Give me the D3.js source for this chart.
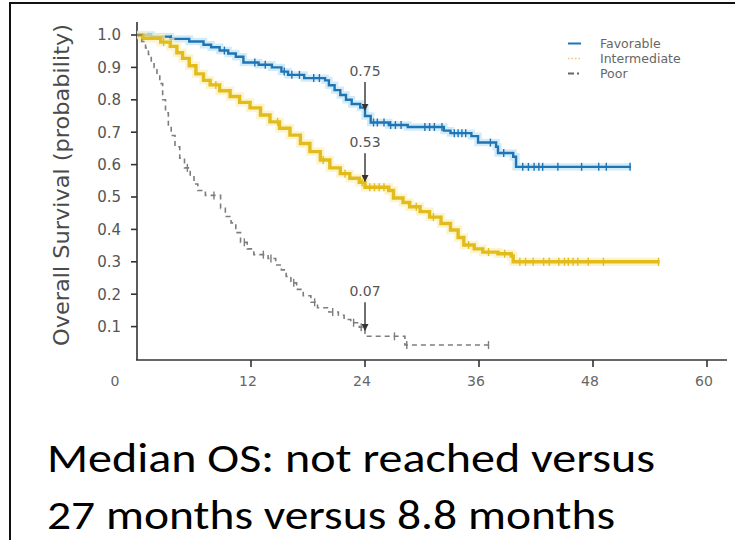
<!DOCTYPE html>
<html>
<head>
<meta charset="utf-8">
<script src="https://cdn.jsdelivr.net/npm/d3@7/dist/d3.min.js"></script>
<style>
  html, body { margin: 0; padding: 0; background: #fff; }
  svg { display: block; }
</style>
</head>
<body>
<svg id="chart" width="735" height="540"></svg>
<script>
// Kaplan–Meier overall survival by risk group: [month, survival after the step]
const favorableSteps = [
  [0, 1.0], [1.5, 0.995], [3.5, 0.988], [5.5, 0.98], [7, 0.97], [7.8, 0.962],
  [8.7, 0.952], [9.6, 0.943], [10.4, 0.933], [11.2, 0.915], [12.8, 0.908],
  [14.2, 0.9], [15.2, 0.887], [15.9, 0.877], [17.6, 0.867], [19.8, 0.86],
  [20.2, 0.845], [20.8, 0.83], [21.4, 0.815], [22, 0.8], [22.6, 0.787],
  [23.5, 0.776], [24, 0.75], [24.6, 0.73], [26.5, 0.722], [28.5, 0.716],
  [32.3, 0.705], [33, 0.697], [35.2, 0.688], [35.9, 0.668], [37.8, 0.655],
  [38, 0.636], [39.6, 0.624], [39.9, 0.593]
];
const favorableEnd = 52;
const favorableCensored = [3.6, 9.2, 12.4, 13.5, 15.5, 16.3, 17.1, 18.6, 19.2, 24.9,
  25.3, 26, 26.7, 27.2, 27.8, 30.3, 30.8, 31.3, 32.1, 33.4, 33.8, 34.2, 34.6, 37.2,
  38.6, 40.6, 41.2, 41.8, 42.3, 42.7, 44.3, 46.8, 48.6, 49.4, 51.9];

const intermediateSteps = [
  [0, 1.0], [0.6, 0.99], [2.5, 0.978], [3.5, 0.965], [4.2, 0.945], [4.8, 0.928],
  [5.5, 0.905], [6.2, 0.88], [7, 0.86], [7.7, 0.846], [8.7, 0.828], [9.8, 0.81],
  [10.8, 0.792], [11.9, 0.775], [13, 0.753], [14, 0.732], [15, 0.712],
  [16.1, 0.691], [17.2, 0.665], [18.2, 0.64], [19.3, 0.614], [20.3, 0.59],
  [21.4, 0.572], [22.4, 0.558], [23.4, 0.545], [24, 0.53], [26.5, 0.52],
  [27, 0.497], [28, 0.483], [28.7, 0.47], [29.8, 0.455], [30.8, 0.438],
  [32, 0.418], [33, 0.398], [33.8, 0.375], [34.4, 0.352], [35.5, 0.34],
  [36.4, 0.33], [38, 0.325], [39.4, 0.318], [39.6, 0.30]
];
const intermediateEnd = 55;
const intermediateCensored = [2.8, 8.3, 14.8, 19.6, 21.9, 23.7, 24.5, 25, 25.5, 26,
  29.4, 31.2, 34.9, 37, 38.7, 40.3, 40.9, 41.7, 42.8, 43.4, 44.4, 45, 45.4, 45.9,
  46.4, 47.5, 49.1, 54.9];

const poorSteps = [
  [0, 1.0], [0.5, 0.98], [0.9, 0.96], [1.2, 0.94], [1.5, 0.92], [1.8, 0.9],
  [2.1, 0.877], [2.4, 0.85], [2.7, 0.8], [3.0, 0.76], [3.3, 0.72], [3.6, 0.69],
  [4.0, 0.655], [4.5, 0.62], [5.0, 0.59], [5.6, 0.565], [6.0, 0.54], [6.4, 0.52],
  [7.2, 0.505], [8.8, 0.465], [9.3, 0.44], [9.9, 0.42], [10.4, 0.39], [10.9, 0.36],
  [11.6, 0.34], [12.3, 0.322], [13.8, 0.31], [14.6, 0.29], [15.2, 0.275],
  [15.7, 0.255], [16.2, 0.235], [16.8, 0.215], [17.5, 0.195], [18.3, 0.175],
  [19, 0.158], [20.2, 0.145], [21.2, 0.135], [21.8, 0.122], [22.5, 0.112],
  [23.4, 0.098], [24, 0.07], [28.2, 0.043]
];
const poorEnd = 37;
const poorCensored = [5.3, 8.1, 11.3, 13.3, 14.1, 16.5, 18.7, 20.6, 22.8, 23.6,
  27.1, 28.4, 37];

const groupNames = ["Favorable", "Intermediate", "Poor"];
const landmarkMonth = 24;
const landmarkLabels = ["0.75", "0.53", "0.07"];

const xTicks = [0, 12, 24, 36, 48, 60];
const yTicks = [0.1, 0.2, 0.3, 0.4, 0.5, 0.6, 0.7, 0.8, 0.9, 1.0];

const yTitle = "Overall Survival (probability)";
const captionLines = ["Median OS: not reached versus", "27 months versus 8.8 months"];

// ---------------------------------------------------------------------------
const svg = d3.select("#chart");

const x = d3.scaleLinear().domain([0, 60]).range([137, 707]);
const y = d3.scaleLinear().domain([0, 1]).range([359, 35]);

// outer frame (left and top edges)
svg.append("path")
  .attr("d", "M10,540 L10,3 L735,3")
  .attr("fill", "none").attr("stroke", "#111").attr("stroke-width", 2);

const axisColor = "#333";
const tickText = "#555";
const font = "'DejaVu Sans', Verdana, sans-serif";

// y axis
const gy = svg.append("g");
gy.append("line").attr("x1", 137).attr("x2", 137).attr("y1", 22).attr("y2", 360)
  .attr("stroke", axisColor).attr("stroke-width", 1.6);
gy.selectAll("line.tick").data(yTicks).join("line").attr("class", "tick")
  .attr("x1", 131).attr("x2", 137).attr("y1", d => y(d)).attr("y2", d => y(d))
  .attr("stroke", axisColor).attr("stroke-width", 1.6);
gy.selectAll("text").data(yTicks).join("text")
  .attr("x", 121).attr("y", d => y(d)).attr("dy", "0.36em")
  .attr("text-anchor", "end").attr("font-family", font).attr("font-size", 15)
  .attr("fill", tickText).text(d => d3.format(".1f")(d));

// x axis
const gx = svg.append("g");
gx.append("line").attr("x1", 136).attr("x2", 727).attr("y1", 360).attr("y2", 360)
  .attr("stroke", axisColor).attr("stroke-width", 1.6);
gx.selectAll("line.tick").data(xTicks.filter(d => d > 0)).join("line").attr("class", "tick")
  .attr("x1", d => x(d)).attr("x2", d => x(d)).attr("y1", 360).attr("y2", 367)
  .attr("stroke", axisColor).attr("stroke-width", 1.6);
gx.selectAll("text").data(xTicks).join("text")
  .attr("x", d => x(d) + (d === 0 ? -22 : -3)).attr("y", 386)
  .attr("text-anchor", "middle").attr("font-family", font).attr("font-size", 14)
  .attr("fill", "#666").text(d => d);

// y title
svg.append("text")
  .attr("transform", "translate(69,185) rotate(-90)")
  .attr("text-anchor", "middle").attr("font-family", font).attr("font-size", 21)
  .attr("font-stretch", "condensed")
  .attr("textLength", 322).attr("lengthAdjust", "spacingAndGlyphs")
  .attr("fill", "#4a4a4a").text(yTitle);

// survival curves
const stepLine = d3.line().x(d => x(d[0])).y(d => y(d[1])).curve(d3.curveStepAfter);
function withEnd(steps, end) { return steps.concat([[end, steps[steps.length - 1][1]]]); }
function survivalAt(steps, t) {
  let s = steps[0][1];
  for (const d of steps) { if (d[0] <= t) s = d[1]; }
  return s;
}

const groups = [
  { steps: favorableSteps, end: favorableEnd, cens: favorableCensored,
    color: "#1f74b4", halo: "#bfe3f7", width: 2.4, dash: null },
  { steps: intermediateSteps, end: intermediateEnd, cens: intermediateCensored,
    color: "#e2bb1c", halo: "#fbf0b8", width: 3.4, dash: null },
  { steps: poorSteps, end: poorEnd, cens: poorCensored,
    color: "#7d7d7d", halo: null, width: 1.6, dash: "5,4" }
];

groups.forEach(g => {
  const data = withEnd(g.steps, g.end);
  if (g.halo) {
    svg.append("path").datum(data).attr("d", stepLine)
      .attr("fill", "none").attr("stroke", g.halo).attr("stroke-width", g.width + 5)
      .attr("stroke-opacity", 0.7);
  }
  svg.append("path").datum(data).attr("d", stepLine)
    .attr("fill", "none").attr("stroke", g.color).attr("stroke-width", g.width)
    .attr("stroke-dasharray", g.dash);
  svg.append("g").selectAll("line").data(g.cens).join("line")
    .attr("x1", d => x(d)).attr("x2", d => x(d))
    .attr("y1", d => y(survivalAt(g.steps, d)) - 4)
    .attr("y2", d => y(survivalAt(g.steps, d)) + 4)
    .attr("stroke", g.color).attr("stroke-width", 1.4);
});

// 24-month landmark annotations
const arrowHead = svg.append("defs").append("marker")
  .attr("id", "arrowhead").attr("viewBox", "0 0 10 10").attr("refX", 9).attr("refY", 5)
  .attr("markerWidth", 5).attr("markerHeight", 5).attr("orient", "auto");
arrowHead.append("path").attr("d", "M0,0 L10,5 L0,10 Z").attr("fill", "#333");

groups.forEach((g, i) => {
  const yv = y(+landmarkLabels[i]);
  const tip = yv - 6;
  const top = tip - 28;
  svg.append("line").attr("x1", x(landmarkMonth)).attr("x2", x(landmarkMonth))
    .attr("y1", top).attr("y2", tip)
    .attr("stroke", "#333").attr("stroke-width", 1.4).attr("marker-end", "url(#arrowhead)");
  svg.append("text").attr("x", x(landmarkMonth)).attr("y", top - 6)
    .attr("text-anchor", "middle").attr("font-family", font).attr("font-size", 14)
    .attr("fill", "#555").text(landmarkLabels[i]);
});

// legend
const legendY = [43.5, 58.5, 73.5];
const legendStyles = [
  { color: "#1f74b4", width: 2, dash: null },
  { color: "#f0c27a", width: 1.4, dash: "1.5,2" },
  { color: "#666", width: 2, dash: "6,3,2,3" }
];
const lg = svg.append("g");
groupNames.forEach((name, i) => {
  lg.append("line").attr("x1", 568).attr("x2", 581).attr("y1", legendY[i]).attr("y2", legendY[i])
    .attr("stroke", legendStyles[i].color).attr("stroke-width", legendStyles[i].width)
    .attr("stroke-dasharray", legendStyles[i].dash);
  lg.append("text").attr("x", 600).attr("y", legendY[i]).attr("dy", "0.36em")
    .attr("font-family", font).attr("font-size", 12.5).attr("fill", "#666").text(name);
});

// caption below the chart
const captionWidths = [608, 568];
svg.selectAll("text.caption").data(captionLines).join("text").attr("class", "caption")
  .attr("x", 47).attr("y", (d, i) => 472 + i * 57)
  .attr("font-family", "Carlito, 'Open Sans', Lato, sans-serif").attr("font-size", 41)
  .attr("textLength", (d, i) => captionWidths[i]).attr("lengthAdjust", "spacingAndGlyphs")
  .attr("fill", "#000").text(d => d);
</script>
</body>
</html>
